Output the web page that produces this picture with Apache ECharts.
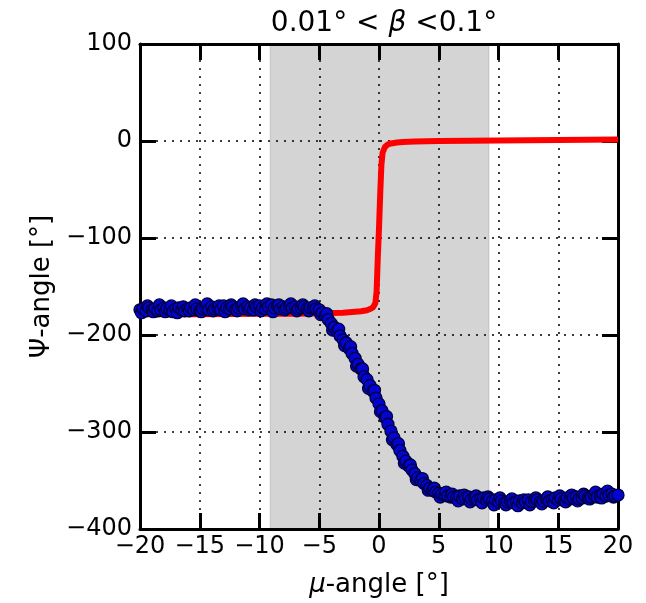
<!DOCTYPE html>
<html>
<head>
<meta charset="utf-8">
<script src="https://cdn.jsdelivr.net/npm/echarts@6/dist/echarts.min.js"></script>
<style>
html,body{margin:0;padding:0;background:#fff;}
#chart{width:646px;height:603px;}
</style>
</head>
<body>
<div id="chart"></div>
<script>
// ---- data ----
const xTicks = [-20, -15, -10, -5, 0, 5, 10, 15, 20];
const yTicks = [-400, -300, -200, -100, 0, 100];
const shadedRange = [-9.1, 9.2];

const redMu  = [-20, -15, -10, -7, -5, -3, -2, -1.5, -1, -0.7, -0.5, -0.3, -0.2, -0.1, 0, 0.1, 0.2, 0.3, 0.5, 0.75, 1, 1.5, 2, 3, 5, 10, 15, 20];
const redPsi = [-178.5, -178.5, -178, -178, -177.5, -177, -176, -175.5, -174.5, -173, -171.5, -167, -155, -120, -90, -55, -25, -12, -6, -3.5, -2.5, -1.5, -1, -0.5, 0, 0.5, 1, 1.5];

const blueMu = [
 -20, -19.75, -19.5, -19.25, -19, -18.75, -18.5, -18.25, -18, -17.75,
 -17.5, -17.25, -17, -16.75, -16.5, -16.25, -16, -15.75, -15.5, -15.25,
 -15, -14.75, -14.5, -14.25, -14, -13.75, -13.5, -13.25, -13, -12.75,
 -12.5, -12.25, -12, -11.75, -11.5, -11.25, -11, -10.75, -10.5, -10.25,
 -10, -9.75, -9.5, -9.25, -9, -8.75, -8.5, -8.25, -8, -7.75,
 -7.5, -7.25, -7, -6.75, -6.5, -6.25, -6, -5.75, -5.5, -5.25,
 -5, -4.75, -4.5, -4.25, -4, -3.75, -3.5, -3.25, -3, -2.75,
 -2.5, -2.25, -2, -1.75, -1.5, -1.25, -1, -0.75, -0.5, -0.25,
 0, 0.25, 0.5, 0.75, 1, 1.25, 1.5, 1.75, 2, 2.25,
 2.5, 2.75, 3, 3.25, 3.5, 3.75, 4, 4.25, 4.5, 4.75,
 5, 5.25, 5.5, 5.75, 6, 6.25, 6.5, 6.75, 7, 7.25,
 7.5, 7.75, 8, 8.25, 8.5, 8.75, 9, 9.25, 9.5, 9.75,
 10, 10.25, 10.5, 10.75, 11, 11.25, 11.5, 11.75, 12, 12.25,
 12.5, 12.75, 13, 13.25, 13.5, 13.75, 14, 14.25, 14.5, 14.75,
 15, 15.25, 15.5, 15.75, 16, 16.25, 16.5, 16.75, 17, 17.25,
 17.5, 17.75, 18, 18.25, 18.5, 18.75, 19, 19.25, 19.5, 19.75, 20
];
const bluePsi = [
 -174, -173, -175, -172, -174, -173, -175, -174, -172, -173,
 -174, -176, -173, -172, -174, -175, -173, -172, -174, -173,
 -175, -173, -172, -174, -171, -173, -172, -174, -170, -172,
 -173, -171, -174, -172, -170, -173, -171, -172, -174, -171,
 -170, -172, -173, -171, -169, -172, -170, -173, -171, -172,
 -170, -172, -171, -173, -172, -171, -173, -172, -172, -173,
 -174, -177, -180, -184, -188, -192, -196, -201, -205, -208,
 -214, -219, -224, -230, -235, -243, -246, -252, -258, -265,
 -271, -278, -285, -292, -299, -306, -313, -319, -325, -330,
 -335, -339, -343, -347, -350, -353, -355, -358, -360, -362,
 -363, -364, -365, -366, -367, -367, -368, -366, -369, -368,
 -367, -369, -368, -370, -369, -368, -370, -369, -371, -370,
 -372, -371, -373, -372, -371, -373, -372, -371, -373, -372,
 -370, -372, -371, -370, -372, -371, -369, -371, -370, -368,
 -370, -369, -371, -368, -369, -368, -367, -369, -368, -366,
 -368, -367, -365, -367, -366, -364, -366, -365, -364, -366, -365
];

// second pass of measurements (offset sampling)
const blueMu2 = [
 -19.875, -19.375, -18.875, -18.375, -17.875, -17.375, -16.875, -16.375, -15.875, -15.375,
 -14.875, -14.375, -13.875, -13.375, -12.875, -12.375, -11.875, -11.375, -10.875, -10.375,
 -9.875, -9.375, -8.875, -8.375, -7.875, -7.375, -6.875, -6.375, -5.875, -5.375,
 -4.875, -4.375, -3.875, -3.375, -2.875, -2.375, -1.875, -1.375, -0.875, -0.375,
 0.125, 0.625, 1.125, 1.625, 2.125, 2.625, 3.125, 3.625, 4.125, 4.625,
 5.125, 5.625, 6.125, 6.625, 7.125, 7.625, 8.125, 8.625, 9.125, 9.625,
 10.125, 10.625, 11.125, 11.625, 12.125, 12.625, 13.125, 13.625, 14.125, 14.625,
 15.125, 15.625, 16.125, 16.625, 17.125, 17.625, 18.125, 18.625, 19.125, 19.625
];
const bluePsi2 = [
 -177, -170, -176, -169, -176, -170, -177, -171, -175, -169,
 -176, -168, -175, -170, -176, -169, -175, -168, -174, -169,
 -175, -168, -176, -169, -174, -168, -175, -169, -175, -170,
 -179, -178, -195, -194, -211, -212, -232, -235, -255, -257,
 -279, -284, -308, -312, -332, -334, -349, -348, -360, -358,
 -367, -362, -364, -371, -365, -372, -366, -373, -367, -375,
 -368, -375, -369, -376, -370, -375, -368, -374, -367, -373,
 -366, -372, -365, -371, -364, -369, -362, -368, -361, -367
];

// ---- chart ----
const FONT = 'DejaVu Sans';
const fmt = v => String(v).replace('-', '\u2212');
const chart = echarts.init(document.getElementById('chart'), null, {renderer: 'canvas'});

const redData = redMu.map((m, i) => [m, redPsi[i]]);
const blueData = blueMu.map((m, i) => [m, bluePsi[i]])
  .concat(blueMu2.map((m, i) => [m, bluePsi2[i]]))
  .sort((a, b) => a[0] - b[0]);

function frameLine() { return {show: true, onZero: false, lineStyle: {color: '#000', width: 3}}; }
function tick() { return {show: true, inside: true, length: 16, lineStyle: {color: '#000', width: 3}}; }
function gridLine() { return {show: true, lineStyle: {color: '#000', width: 1.5, type: [2, 6]}}; }
const labelStyle = {fontFamily: FONT, fontSize: 24, color: '#000', formatter: fmt};
const nameStyle = {fontFamily: FONT, fontSize: 26, color: '#000'};

chart.setOption({
  animation: false,
  backgroundColor: '#fff',
  title: {
    text: '0.01° < {i|β} <0.1°',
    left: 379,
    top: 5,
    textAlign: 'center',
    textStyle: {
      fontFamily: FONT, fontSize: 28, fontWeight: 'normal', color: '#000',
      rich: {i: {fontFamily: FONT, fontSize: 28, fontStyle: 'italic', color: '#000'}}
    }
  },
  grid: {left: 140, right: 28, top: 44, bottom: 70, containLabel: false},
  xAxis: [{
    type: 'value', min: -20, max: 20, interval: 5, position: 'bottom',
    axisLine: frameLine(), axisTick: tick(), splitLine: gridLine(),
    axisLabel: Object.assign({margin: 6}, labelStyle),
    name: '{i|μ}-angle [°]', nameLocation: 'middle', nameGap: 43,
    nameTextStyle: Object.assign({rich: {i: Object.assign({fontStyle: 'italic'}, nameStyle)}}, nameStyle)
  }, {
    type: 'value', min: -20, max: 20, interval: 5, position: 'top',
    axisLine: frameLine(), axisTick: tick(), splitLine: {show: false}, axisLabel: {show: false}
  }],
  yAxis: [{
    type: 'value', min: -400, max: 100, interval: 100, position: 'left',
    axisLine: frameLine(), axisTick: tick(), splitLine: gridLine(),
    axisLabel: Object.assign({margin: 8}, labelStyle),
    name: 'Ψ-angle [°]', nameLocation: 'middle', nameGap: 74,
    nameTextStyle: nameStyle
  }, {
    type: 'value', min: -400, max: 100, interval: 100, position: 'right',
    axisLine: frameLine(), axisTick: tick(), splitLine: {show: false}, axisLabel: {show: false}
  }],
  series: [{
    type: 'line', data: [], z: 1, silent: true,
    markArea: {
      silent: true,
      itemStyle: {color: 'rgba(0,0,0,0.17)', borderColor: 'rgba(0,0,0,0.1)', borderWidth: 1.5},
      data: [[{xAxis: shadedRange[0]}, {xAxis: shadedRange[1]}]]
    }
  }, {
    name: 'red', type: 'line', data: redData, showSymbol: false, smooth: false,
    lineStyle: {color: '#ff0000', width: 6}, z: 3
  }, {
    name: 'blue', type: 'scatter', data: blueData, symbol: 'circle', symbolSize: 12,
    itemStyle: {color: '#0404d0', borderColor: '#000040', borderWidth: 1.3, opacity: 1}, z: 4
  }]
});
</script>
</body>
</html>
